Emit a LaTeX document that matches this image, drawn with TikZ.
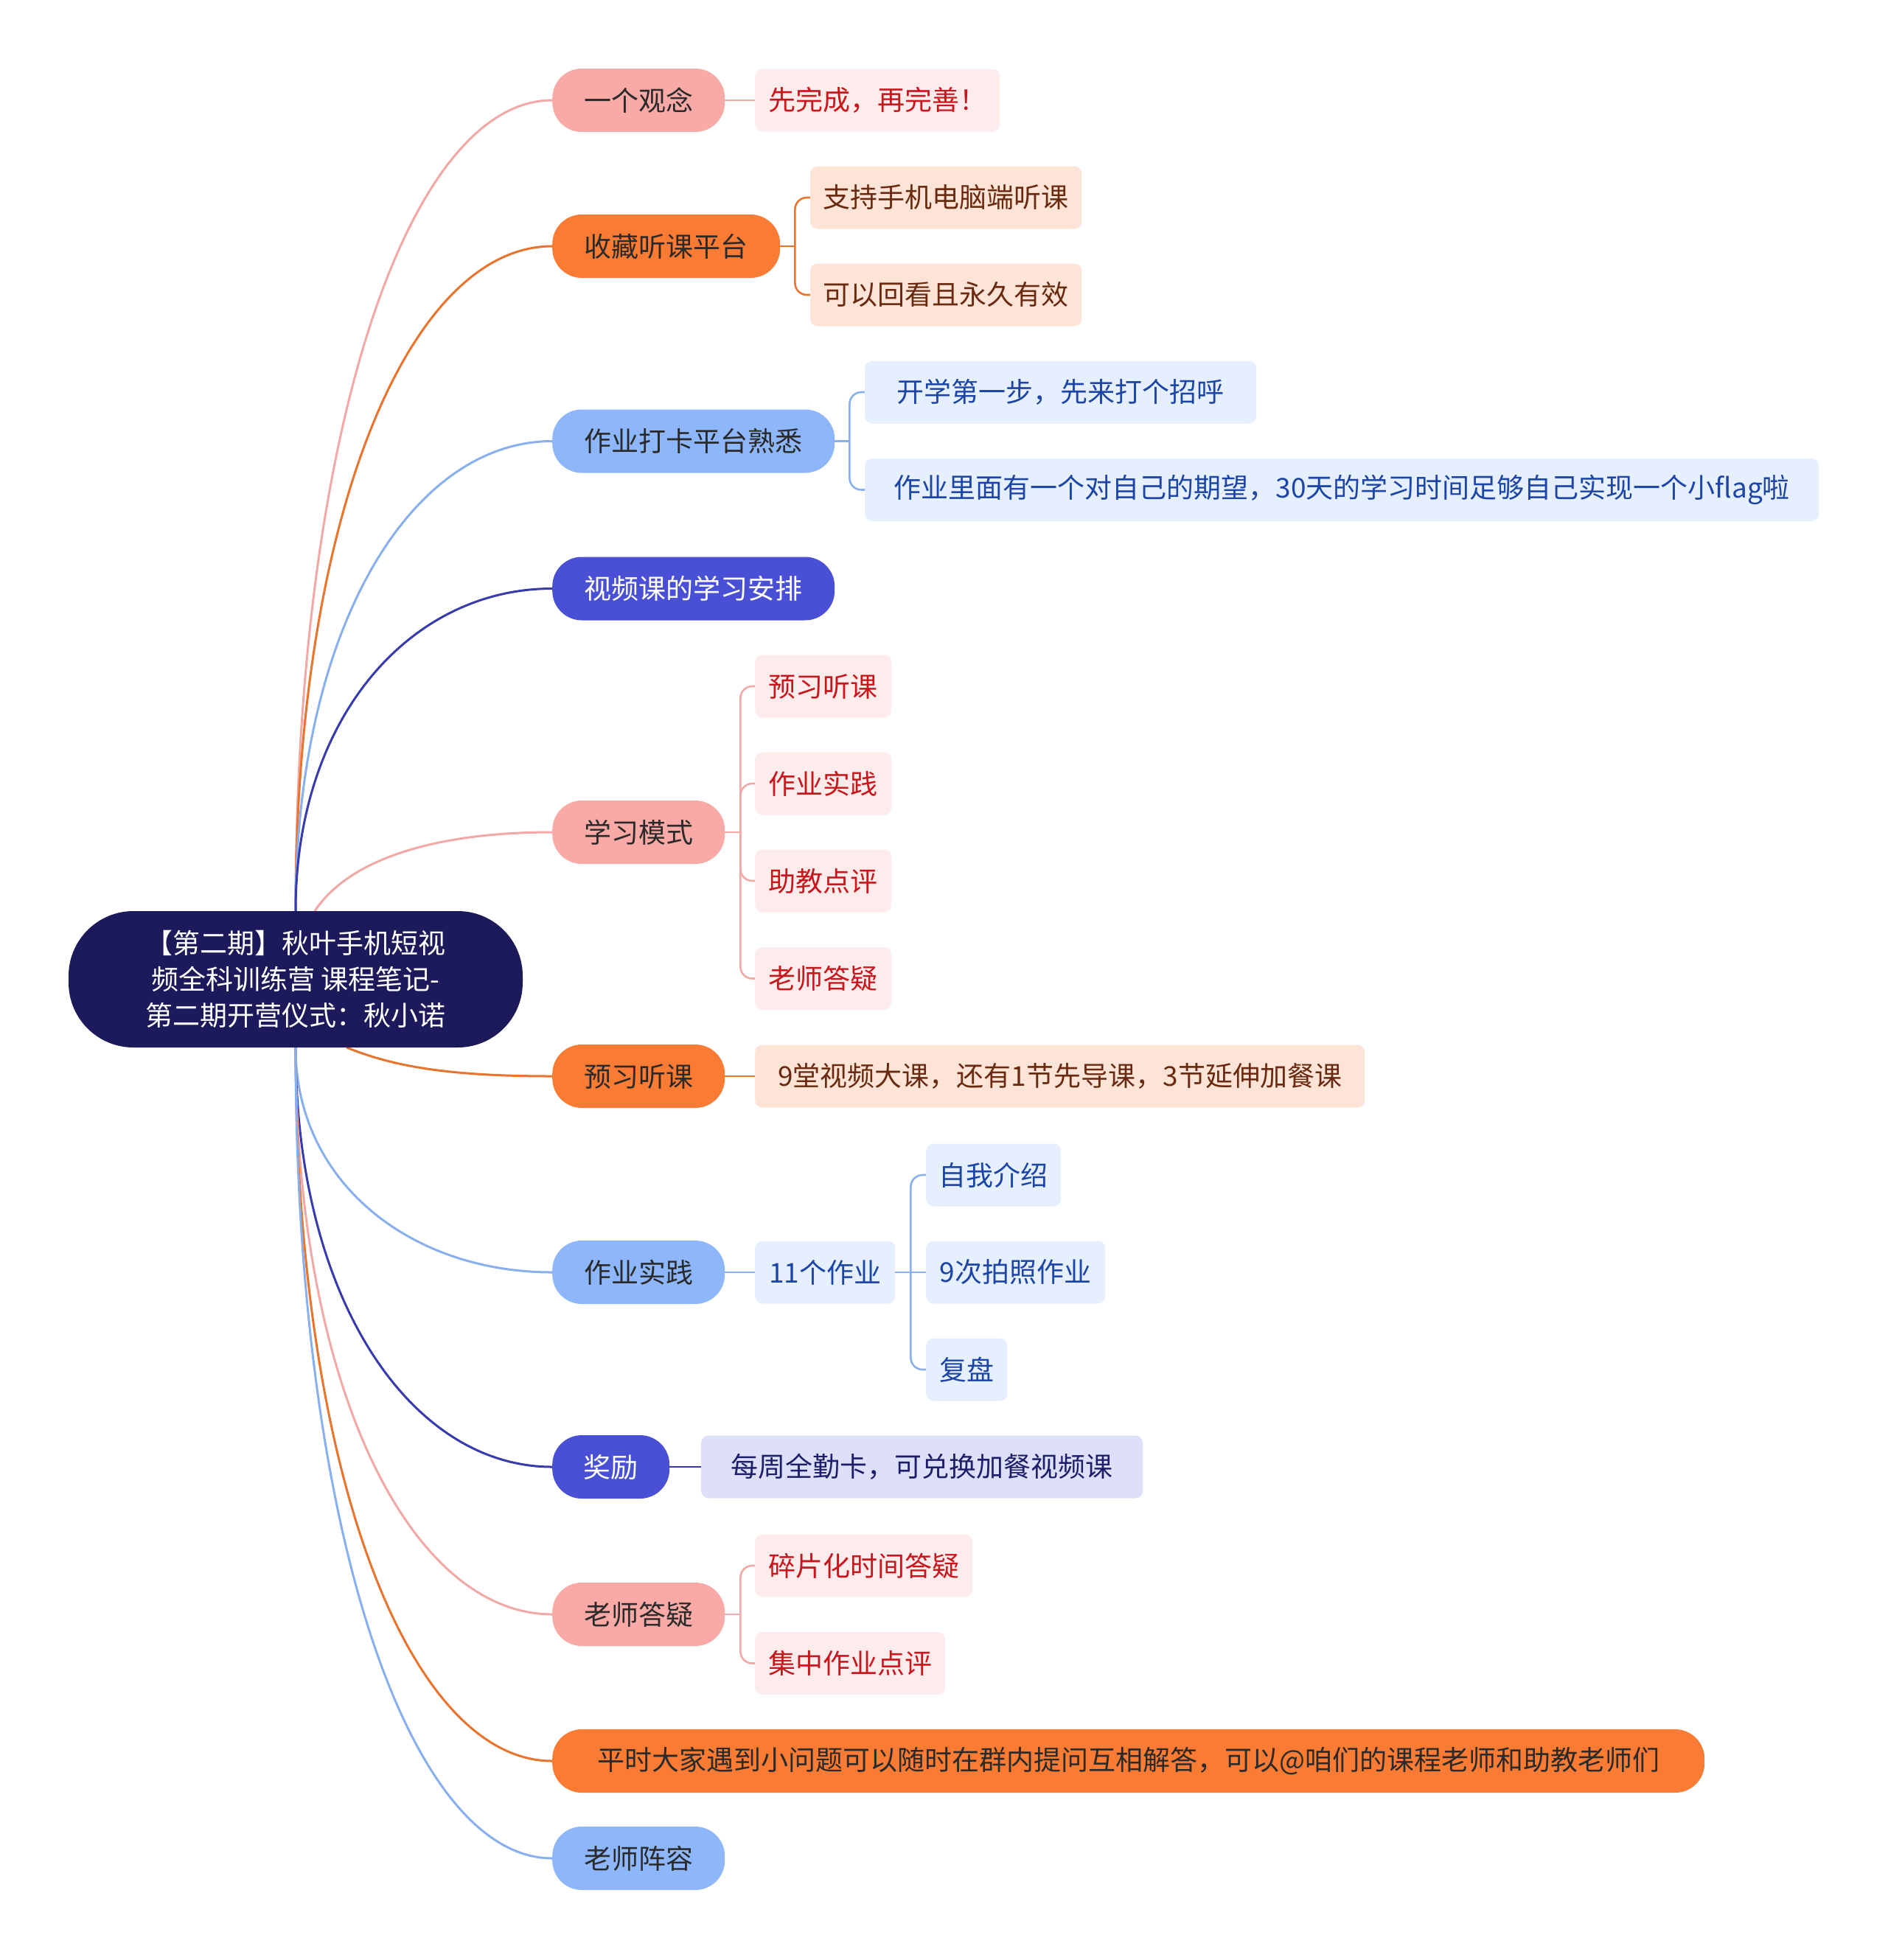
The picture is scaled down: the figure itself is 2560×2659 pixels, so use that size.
\documentclass[tikz,border=0pt]{standalone}
\usepackage{fontspec}
\setmainfont{Noto Sans CJK SC}
\usetikzlibrary{backgrounds,calc}
\definecolor{rootF}{HTML}{1C1A5A}
\definecolor{pinkF}{HTML}{F9AAA7}
\definecolor{orangeF}{HTML}{FA7B33}
\definecolor{blueF}{HTML}{8DB7FA}
\definecolor{indigoF}{HTML}{4A50D6}
\definecolor{pinkC}{HTML}{FDECEB}
\definecolor{orangeC}{HTML}{FDE4D7}
\definecolor{blueC}{HTML}{E6EFFD}
\definecolor{indigoC}{HTML}{DEDFF8}
\definecolor{pinkT}{HTML}{C8161D}
\definecolor{orangeT}{HTML}{6A2A10}
\definecolor{blueT}{HTML}{1C45A6}
\definecolor{indigoT}{HTML}{1E1F6B}
\definecolor{lOneT}{HTML}{2A2A2A}
\definecolor{pinkL}{HTML}{F2A9A5}
\definecolor{orangeL}{HTML}{E9742D}
\definecolor{blueL}{HTML}{88B0EE}
\definecolor{indigoL}{HTML}{383BAE}
\begin{document}
\begin{tikzpicture}[x=1pt,y=-1pt,
  font=\fontsize{37}{49}\selectfont,
  rootbox/.style={fill=rootF, text=white, rounded corners=88pt, minimum width=616pt, minimum height=185pt, align=center, inner sep=0pt},
  lone/.style={rounded corners=40pt, minimum height=86pt, inner sep=0pt, anchor=west, text=lOneT},
  lpink/.style={lone, fill=pinkF},
  lorange/.style={lone, fill=orangeF},
  lblue/.style={lone, fill=blueF},
  lindigo/.style={lone, fill=indigoF, text=white},
  ctwo/.style={rounded corners=10pt, minimum height=85pt, inner sep=0pt, anchor=west},
  cpink/.style={ctwo, fill=pinkC, text=pinkT},
  corange/.style={ctwo, fill=orangeC, text=orangeT},
  cblue/.style={ctwo, fill=blueC, text=blueT},
  cindigo/.style={ctwo, fill=indigoC, text=indigoT},
  wone/.style={line width=3pt},
  wtwo/.style={line width=2.6pt},
  brk/.style={wtwo, rounded corners=16pt}
]
\useasboundingbox (0,0) rectangle (2560,2659);
\begin{scope}[on background layer]
\fill[white] (0,0) rectangle (2560,2659);
\end{scope}

\node[rootbox] (root) at (401,1328.5) {【第二期】秋叶手机短视\\频全科训练营 课程笔记-\\第二期开营仪式：秋小诺};

\node[lpink, minimum width=234pt] (n1) at (749,136) {一个观念};
\node[lorange, minimum width=309pt] (n2) at (749,334) {收藏听课平台};
\node[lblue, minimum width=383pt] (n3) at (749,598.5) {作业打卡平台熟悉};
\node[lindigo, minimum width=383pt] (n4) at (749,798.5) {视频课的学习安排};
\node[lpink, minimum width=234pt] (n5) at (749,1129) {学习模式};
\node[lorange, minimum width=234pt] (n6) at (749,1460) {预习听课};
\node[lblue, minimum width=234pt] (n7) at (749,1726) {作业实践};
\node[lindigo, minimum width=159pt] (n8) at (749,1990) {奖励};
\node[lpink, minimum width=234pt] (n9) at (749,2190) {老师答疑};
\node[lorange, minimum width=1563pt] (n10) at (749,2389) {平时大家遇到小问题可以随时在群内提问互相解答，可以@咱们的课程老师和助教老师们};
\node[lblue, minimum width=234pt] (n11) at (749,2521) {老师阵容};

\node[cpink, minimum width=332pt] (c1) at (1024,136) {先完成，再完善！};
\node[corange, minimum width=368pt] (c2a) at (1099,268) {支持手机电脑端听课};
\node[corange, minimum width=368pt] (c2b) at (1099,400) {可以回看且永久有效};
\node[cblue, minimum width=531pt] (c3a) at (1173,532) {开学第一步，先来打个招呼};
\node[cblue, minimum width=1294pt] (c3b) at (1173,664.5) {作业里面有一个对自己的期望，30天的学习时间足够自己实现一个小flag啦};
\node[cpink, minimum width=185pt] (c5a) at (1024,931) {预习听课};
\node[cpink, minimum width=185pt] (c5b) at (1024,1063) {作业实践};
\node[cpink, minimum width=185pt] (c5c) at (1024,1195) {助教点评};
\node[cpink, minimum width=185pt] (c5d) at (1024,1327.5) {老师答疑};
\node[corange, minimum width=827pt] (c6) at (1024,1460) {9堂视频大课，还有1节先导课，3节延伸加餐课};
\node[cblue, minimum width=190pt] (c7) at (1024,1726) {11个作业};
\node[cblue, minimum width=183pt] (c7a) at (1256,1594) {自我介绍};
\node[cblue, minimum width=243pt] (c7b) at (1256,1726) {9次拍照作业};
\node[cblue, minimum width=110pt] (c7c) at (1256,1858) {复盘};
\node[cindigo, minimum width=599pt] (c8) at (951,1990) {每周全勤卡，可兑换加餐视频课};
\node[cpink, minimum width=295pt] (c9a) at (1024,2124) {碎片化时间答疑};
\node[cpink, minimum width=258pt] (c9b) at (1024,2256.5) {集中作业点评};

\coordinate (rtx) at (427,1236);
\coordinate (rbx) at (470,1421);
\coordinate (s2) at ($(n2.east)+(20,0)$);
\coordinate (s3) at ($(n3.east)+(20,0)$);
\coordinate (s5) at ($(n5.east)+(21,0)$);
\coordinate (s7) at ($(c7.east)+(21,0)$);
\coordinate (s9) at ($(n9.east)+(21,0)$);

\begin{scope}[on background layer]
% root to first level
\draw[wone, pinkL] (root.north) .. controls (401,576) and (557,136) .. (n1.west);
\draw[wone, orangeL] (root.north) .. controls (401,695) and (557,334) .. (n2.west);
\draw[wone, blueL] (root.north) .. controls (401,853) and (557,598.5) .. (n3.west);
\draw[wone, indigoL] (root.north) .. controls (401,973) and (557,798.5) .. (n4.west);
\draw[wone, pinkL] (rtx) .. controls (470,1170) and (580,1129) .. (n5.west);
\draw[wone, orangeL] (rbx) .. controls (530,1445) and (600,1460) .. (n6.west);
\draw[wone, blueL] (root.south) .. controls (401,1604) and (557,1726) .. (n7.west);
\draw[wone, indigoL] (root.south) .. controls (401,1762) and (557,1990) .. (n8.west);
\draw[wone, pinkL] (root.south) .. controls (401,1882) and (557,2190) .. (n9.west);
\draw[wone, orangeL] (root.south) .. controls (401,2002) and (557,2389) .. (n10.west);
\draw[wone, blueL] (root.south) .. controls (401,2081) and (557,2521) .. (n11.west);
% second level
\draw[wtwo, pinkL] (n1.east) -- (c1.west);
\draw[wtwo, orangeL] (n2.east) -- (s2);
\draw[brk, orangeL] (s2) |- (c2a.west);
\draw[brk, orangeL] (s2) |- (c2b.west);
\draw[wtwo, blueL] (n3.east) -- (s3);
\draw[brk, blueL] (s3) |- (c3a.west);
\draw[brk, blueL] (s3) |- (c3b.west);
\draw[wtwo, pinkL] (n5.east) -- (s5);
\draw[brk, pinkL] (s5) |- (c5a.west);
\draw[brk, pinkL] (s5) |- (c5b.west);
\draw[brk, pinkL] (s5) |- (c5c.west);
\draw[brk, pinkL] (s5) |- (c5d.west);
\draw[wtwo, orangeL] (n6.east) -- (c6.west);
\draw[wtwo, blueL] (n7.east) -- (c7.west);
\draw[wtwo, blueL] (c7.east) -- (s7);
\draw[brk, blueL] (s7) |- (c7a.west);
\draw[wtwo, blueL] (s7) -- (c7b.west);
\draw[brk, blueL] (s7) |- (c7c.west);
\draw[wtwo, indigoL] (n8.east) -- (c8.west);
\draw[wtwo, pinkL] (n9.east) -- (s9);
\draw[brk, pinkL] (s9) |- (c9a.west);
\draw[brk, pinkL] (s9) |- (c9b.west);
\end{scope}
\end{tikzpicture}
\end{document}
